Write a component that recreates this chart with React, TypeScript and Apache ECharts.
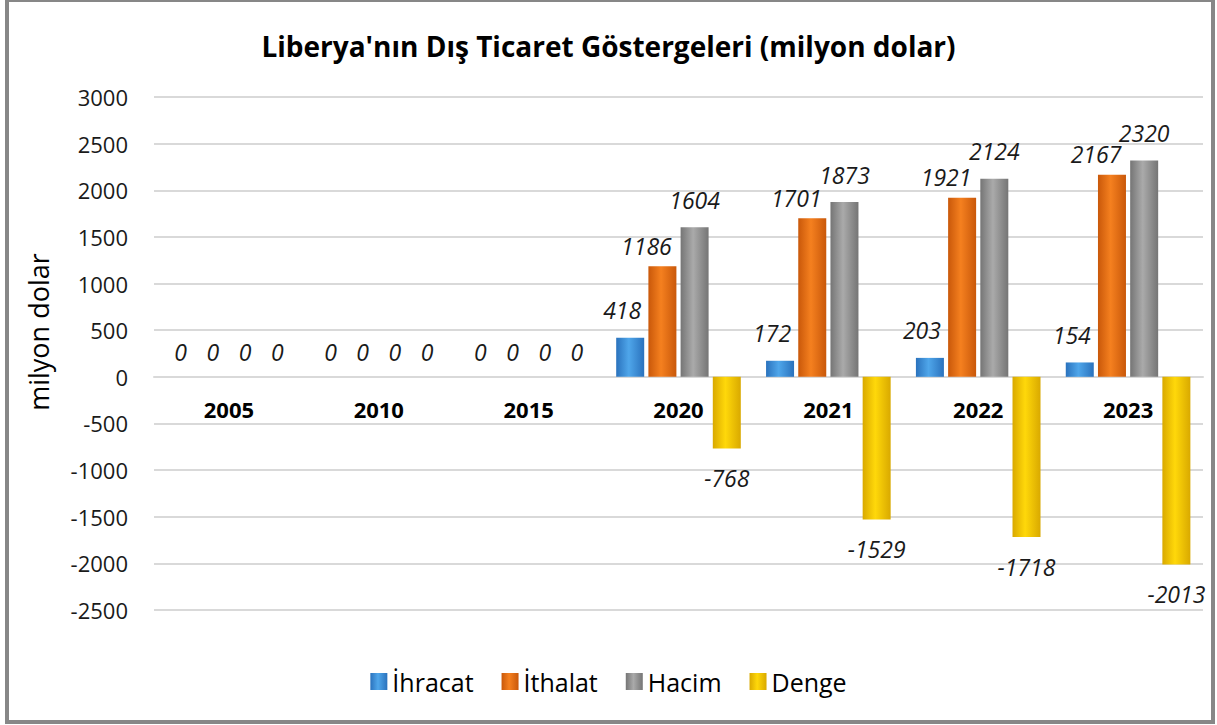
import React, { useEffect, useRef } from "react";
import * as echarts from "echarts";

const categories = ["2005", "2010", "2015", "2020", "2021", "2022", "2023"];
const ihracat = [0, 0, 0, 418, 172, 203, 154];
const ithalat = [0, 0, 0, 1186, 1701, 1921, 2167];
const hacim = [0, 0, 0, 1604, 1873, 2124, 2320];
const denge = [0, 0, 0, -768, -1529, -1718, -2013];
const seriesNames = ["İhracat", "İthalat", "Hacim", "Denge"];

const FONT = "'Open Sans', sans-serif";

function grad(edge: string, mid: string) {
  return new echarts.graphic.LinearGradient(0, 0, 1, 0, [
    { offset: 0, color: edge },
    { offset: 0.45, color: mid },
    { offset: 1, color: edge },
  ]);
}

export default function App() {
  const ref = useRef<HTMLDivElement>(null);
  useEffect(() => {
    if (!ref.current) return;
    const chart = echarts.init(ref.current, undefined, { renderer: "svg" });
    const colors = [
      grad("#2a72bd", "#4fa6ea"),
      grad("#c9580a", "#f5801f"),
      grad("#757575", "#aaaaaa"),
      grad("#d9a900", "#ffd80a"),
    ];
    const datasets = [ihracat, ithalat, hacim, denge];
    // per-series label placement for positive values (x offset, distance)
    const posLabel = [
      { offset: [-8, 0], distance: 16 },
      { offset: [-16, 0], distance: 9 },
      { offset: [0, 0], distance: 16 },
      { offset: [0, 0], distance: 16 },
    ];
    const labelBase = {
      show: true,
      fontFamily: FONT,
      fontStyle: "italic" as const,
      fontSize: 23,
      color: "#1a1a1a",
      distance: 13,
      position: "top" as const,
    };
    const gridTop = 97;
    const gridBottomPx = 610;
    const yMin = -2500;
    const yMax = 3000;
    const zeroPx = gridTop + ((yMax - 0) / (yMax - yMin)) * (gridBottomPx - gridTop);
    chart.setOption({
      animation: false,
      backgroundColor: "#ffffff",
      textStyle: { fontFamily: FONT },
      title: {
        text: "Liberya'nın Dış Ticaret Göstergeleri (milyon dolar)",
        left: "center",
        top: 27,
        textStyle: { fontFamily: FONT, fontWeight: "bold", fontSize: 28, color: "#000" },
      },
      grid: { left: 154, right: 14, top: gridTop, bottom: 725 - gridBottomPx },
      legend: {
        top: 664,
        left: "center",
        icon: "rect",
        itemWidth: 17,
        itemHeight: 17,
        itemGap: 28,
        textStyle: { fontFamily: FONT, fontSize: 25, color: "#000" },
        data: seriesNames,
      },
      xAxis: {
        type: "category",
        data: categories,
        position: "bottom",
        offset: -(gridBottomPx - zeroPx),
        axisLine: { onZero: false, lineStyle: { color: "#d9d9d9", width: 2 } },
        axisTick: { show: false },
        axisLabel: { margin: 21, fontFamily: FONT, fontWeight: "bold", fontSize: 22, color: "#000" },
      },
      yAxis: {
        type: "value",
        min: yMin,
        max: yMax,
        interval: 500,
        axisLine: { show: false },
        axisTick: { show: false },
        splitLine: { lineStyle: { color: "#d9d9d9", width: 2 } },
        axisLabel: {
          margin: 26,
          fontFamily: FONT,
          fontSize: 22,
          color: "#1a1a1a",
          formatter: (v: number) => String(v),
        },
      },
      graphic: [
        {
          type: "text",
          x: 38,
          y: 332,
          rotation: Math.PI / 2,
          style: {
            text: "milyon dolar",
            fontFamily: FONT,
            fontSize: 27,
            fill: "#000",
            align: "center",
            verticalAlign: "middle",
          },
        },
      ],
      series: seriesNames.map((name, i) => ({
        name,
        type: "bar",
        barWidth: 28,
        barGap: "15%",
        itemStyle: { color: colors[i] },
        label: { ...labelBase },
        data: datasets[i].map((v) => {
          if (v < 0) return { value: v, label: { position: "bottom", distance: 18 } };
          if (v > 0) return { value: v, label: { ...posLabel[i] } };
          return v;
        }),
      })),
    });
    return () => chart.dispose();
  }, []);
  return (
    <div style={{ position: "absolute", left: 0, top: 0, width: 1217, height: 725, background: "#fff" }}>
      <div ref={ref} style={{ position: "absolute", left: 0, top: 0, width: 1217, height: 725 }} />
      <div
        style={{
          position: "absolute",
          left: 5,
          top: -2,
          width: 1210,
          height: 726,
          boxSizing: "border-box",
          border: "4px solid #878787",
          pointerEvents: "none",
        }}
      />
    </div>
  );
}
